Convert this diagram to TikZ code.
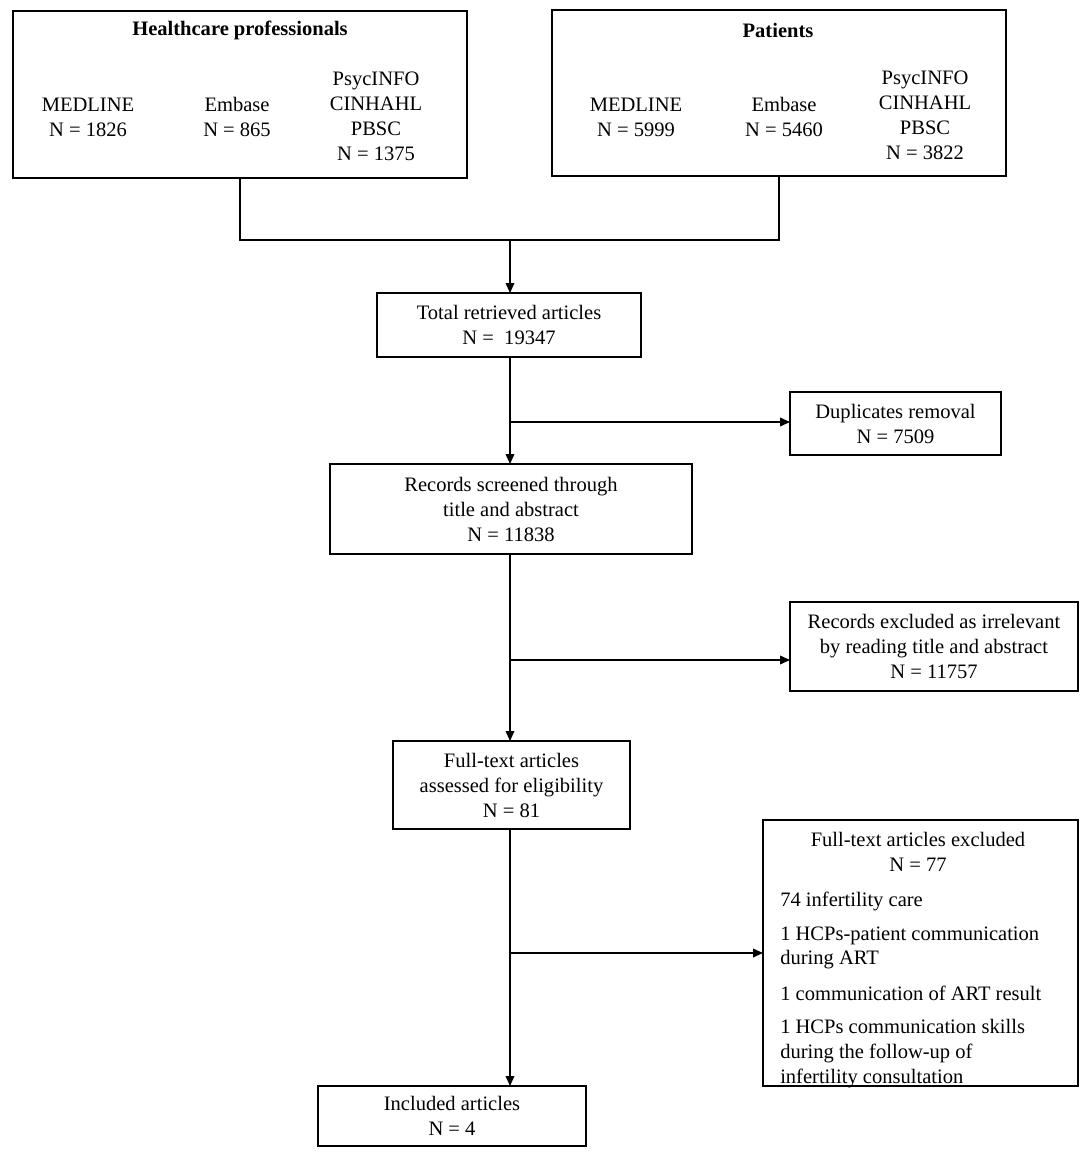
\documentclass[tikz,border=0pt]{standalone}
\usepackage{fontspec}
\setmainfont{Liberation Serif}
\usetikzlibrary{arrows.meta}
\begin{document}
\begin{tikzpicture}[x=0.75pt,y=-0.75pt,
  every node/.style={font=\fontsize{15.4}{18.75}\selectfont},
  box/.style={draw, line width=1.1pt, inner sep=0pt, outer sep=0pt, align=center},
  txt/.style={inner sep=0pt, align=center},
  ltxt/.style={inner sep=0pt, anchor=base west},
  link/.style={line width=1.1pt},
  arr/.style={line width=1.1pt, -{Triangle[length=7.5pt,width=6.5pt]}}]
\useasboundingbox (0,0) rectangle (1084,1158);

% top boxes
\node[box, minimum width=340.5pt, minimum height=125.25pt] (hcp) at (240,94.5) {};
\node[box, minimum width=340.5pt, minimum height=124.5pt] (pat) at (779,93) {};

\node[txt, font=\fontsize{15.4}{18.75}\selectfont\bfseries] (hcpt) at (240,30) {Healthcare professionals};
\node[txt] (hcp1) at (88,117) {MEDLINE\\N = 1826};
\node[txt] (hcp2) at (237,117) {Embase\\N = 865};
\node[txt] (hcp3) at (376,116) {PsycINFO\\CINHAHL\\PBSC\\N = 1375};

\node[txt, font=\fontsize{15.4}{18.75}\selectfont\bfseries] (patt) at (778,30) {Patients};
\node[txt] (pat1) at (636,117) {MEDLINE\\N = 5999};
\node[txt] (pat2) at (784,117) {Embase\\N = 5460};
\node[txt] (pat3) at (925,115) {PsycINFO\\CINHAHL\\PBSC\\N = 3822};

% flow boxes
\node[box, minimum width=198pt, minimum height=48pt] (total) at (509,325) {Total retrieved articles\\N = \ 19347};
\node[box, minimum width=158.25pt, minimum height=47.25pt] (dup) at (895.5,423.5) {Duplicates removal\\N = 7509};
\node[box, minimum width=271.5pt, minimum height=67.5pt] (rec) at (511,509) {Records screened through\\title and abstract\\N = 11838};
\node[box, minimum width=216pt, minimum height=66.75pt] (recex) at (934,646.5) {Records excluded as irrelevant\\by reading title and abstract\\N = 11757};
\node[box, minimum width=177.75pt, minimum height=66pt] (full) at (511.5,785) {Full-text articles\\assessed for eligibility\\N = 81};
\node[box, minimum width=236.25pt, minimum height=199.5pt] (ftex) at (920.5,953) {};
\node[box, minimum width=201pt, minimum height=45pt] (inc) at (452,1116) {Included articles\\N = 4};

% excluded text
\node[txt] (ft0) at (918,852) {Full-text articles excluded\\N = 77};
\node[ltxt] (ft1) at (780,906) {74 infertility care};
\node[ltxt] (ft2) at (780,940) {1 HCPs-patient communication};
\node[ltxt] (ft3) at (780,964.5) {during ART};
\node[ltxt] (ft4) at (780,1000) {1 communication of ART result};
\node[ltxt] (ft5) at (780,1033) {1 HCPs communication skills};
\node[ltxt] (ft6) at (780,1058) {during the follow-up of};
\node[ltxt] (ft7) at (780,1083.5) {infertility consultation};
\draw[line width=1.1pt] (ftex.south west) -- (ftex.south east);

% connectors
\coordinate (m) at (510,240);
\draw[link] (hcp.south) |- (m) -| (pat.south);
\draw[arr] (m) -- (m |- total.north);
\coordinate (b1) at (510,422);
\coordinate (b2) at (510,660);
\coordinate (b3) at (510,953);
\draw[arr] (m |- total.south) -- (m |- rec.north);
\draw[arr] (b1) -- (dup.west |- b1);
\draw[arr] (m |- rec.south) -- (m |- full.north);
\draw[arr] (b2) -- (recex.west |- b2);
\draw[arr] (m |- full.south) -- (m |- inc.north);
\draw[arr] (b3) -- (ftex.west |- b3);
\end{tikzpicture}
\end{document}
